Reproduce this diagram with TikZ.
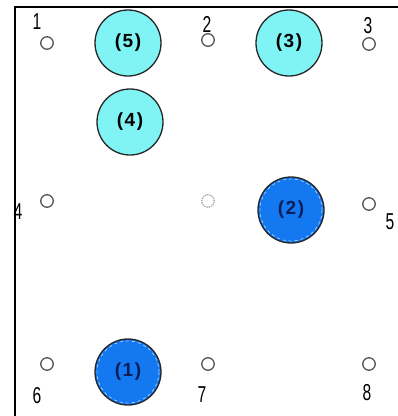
\documentclass[tikz,border=0pt]{standalone}
\usepackage{fontspec}
\setmainfont{Liberation Sans}
\usetikzlibrary{positioning}
\definecolor{lightball}{HTML}{80F4F4}
\definecolor{darkball}{HTML}{1479F0}
\definecolor{navytext}{HTML}{0A1E5A}
\definecolor{holegray}{HTML}{555555}

\begin{document}
\begin{tikzpicture}[x=1pt,y=-1pt,
  hole/.style={circle,draw=holegray,line width=1.3pt,fill=white,
    minimum size=12.5pt,inner sep=0pt},
  num/.style={inner sep=0pt,font=\fontsize{23}{23}\selectfont,xscale=0.68},
  ball/.style={circle,draw=black!85,line width=1.3pt,fill=lightball,
    minimum size=66pt,inner sep=0pt,
    font=\fontsize{19}{19}\selectfont\bfseries},
  deep/.style={ball,fill=darkball,text=navytext}]
\useasboundingbox (0,0) rectangle (398,416);
\draw[line width=2pt] (15,416) -- (15,7) -- (398,7);
% holes
\node[hole] (p1) at (47,43)  {};
\node[hole] (p2) at (208,40) {};
\node[hole] (p3) at (369,44) {};
\node[hole] (p4) at (47,201) {};
\node[hole,draw=gray!70,densely dotted] (p0) at (208,201) {};
\node[hole] (p5) at (369,204) {};
\node[hole] (p6) at (47,364) {};
\node[hole] (p7) at (208,364) {};
\node[hole] (p8) at (369,364) {};
% hole numbers
\node[num] (n1) at (37,22)  {1};
\node[num] (n2) at (207,24) {2};
\node[num] (n3) at (368,26) {3};
\node[num] (n4) at (18,212) {4};
\node[num] (n5) at (390,222) {5};
\node[num] (n6) at (37,396) {6};
\node[num] (n7) at (202,395) {7};
\node[num] (n8) at (367,393) {8};
% balls
\node[ball] (b5) at (128,43)  {(\kern1.5pt5\kern1.5pt)};
\node[ball] (b3) at (289,43)  {(\kern1.5pt3\kern1.5pt)};
\node[ball] (b4) at (130,122) {(\kern1.5pt4\kern1.5pt)};
\node[deep] (b2) at (291,210) {(\kern1.5pt2\kern1.5pt)};
\node[deep] (b1) at (128,372) {(\kern1.5pt1\kern1.5pt)};
\draw[white,dashed,thin] (b2.center) circle (31);
\draw[white,dashed,thin] (b1.center) circle (31);
\end{tikzpicture}
\end{document}
